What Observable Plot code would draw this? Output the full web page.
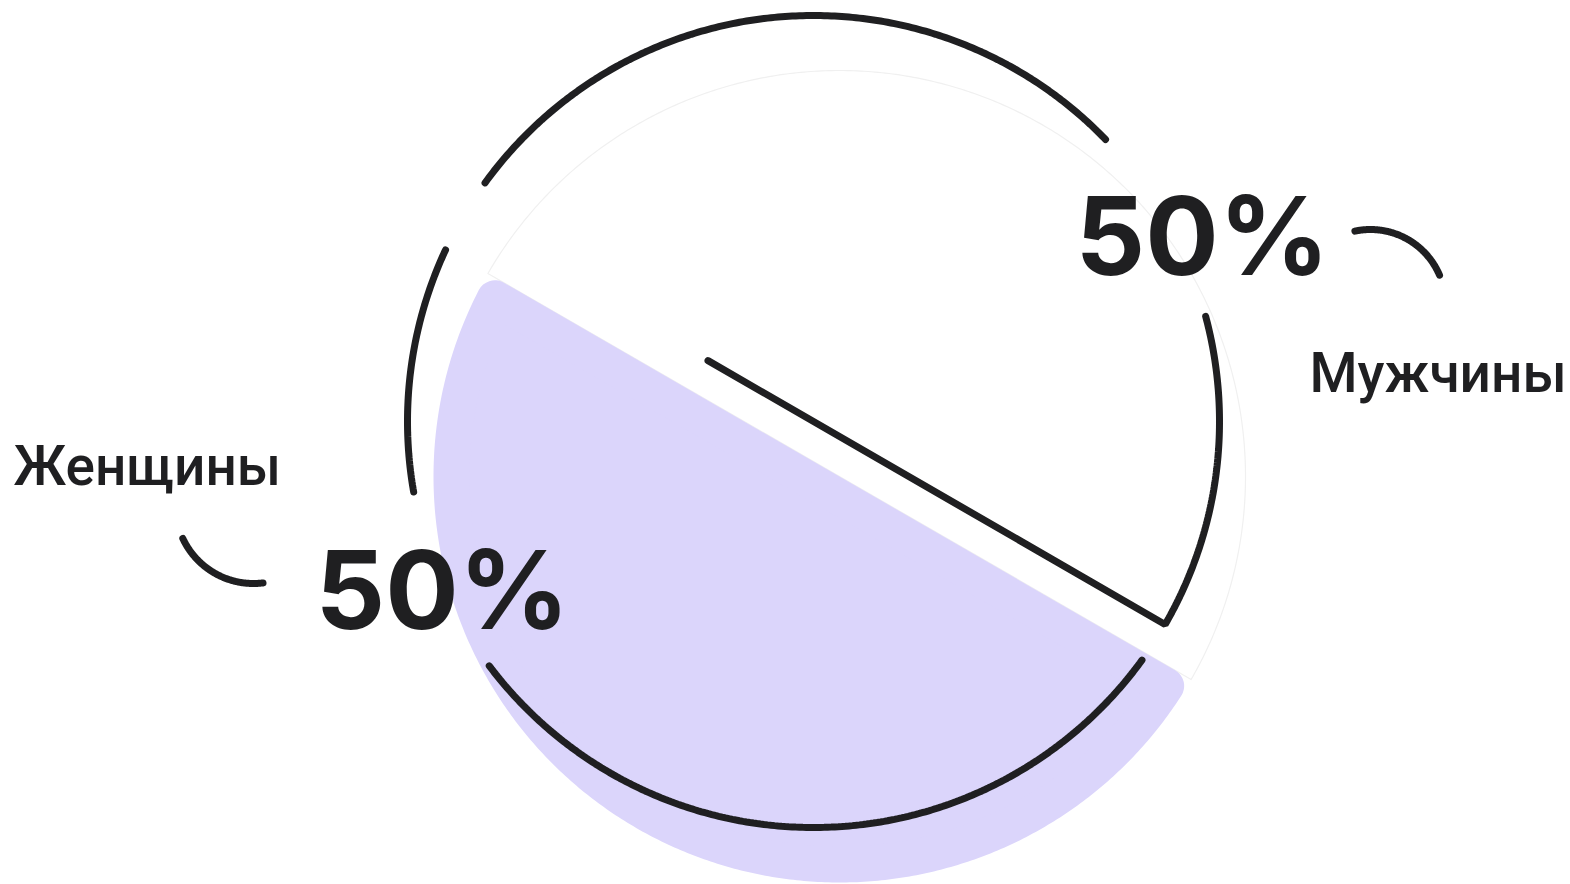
<!DOCTYPE html>
<html><head><meta charset="utf-8">
<script src="https://cdn.jsdelivr.net/npm/d3@7"></script>
<script src="https://cdn.jsdelivr.net/npm/@observablehq/plot@0.6"></script>
<style>html,body{margin:0;padding:0;background:#fff;overflow:hidden}#chart svg{display:block}</style>
</head><body><div id="chart"></div>
<script>
// ---- data ----
const categories = ["Мужчины", "Женщины"];
const values = [50, 50];
const valueLabels = values.map(v => `${v}%`);

// ---- layout / style ----
const W = 1570, H = 884;
const INK = "#1f1f21", LAVENDER = "#dbd5fb";
const deg = Math.PI / 180;
const FILL = {cx: 839, cy: 476, r: 406};
const RING = {cx: 813, cy: 421, r: 406};
const CORNER = 18;

const pie = d3.pie().sort(null).startAngle(-60 * deg).endAngle(300 * deg)(values);
const [men, women] = pie;

const pt = (c, r, a) => ({x: c.cx + r * Math.sin(a), y: c.cy - r * Math.cos(a)});
function arcPoints(c, r, a0, a1, seg) {
  const n = Math.max(2, Math.ceil(Math.abs(a1 - a0) / (0.5 * deg)));
  return d3.range(n + 1).map(i => ({...pt(c, r, a0 + (a1 - a0) * i / n), seg}));
}

// white slice (men)
const menPoly = [{x: FILL.cx, y: FILL.cy}, ...arcPoints(FILL, FILL.r, men.startAngle, men.endAngle), {x: FILL.cx, y: FILL.cy}];
// lavender slice (women) with rounded corners: inset polygon + round-joined stroke
const rIn = FILL.r - CORNER;
const dl = Math.asin(CORNER / rIn);
const womenArc = arcPoints(FILL, rIn, women.startAngle + dl, women.endAngle - dl);
const womenPoly = [...womenArc, womenArc[0]];

// black outline of the ring
const spoke = [pt(RING, -0.3 * RING.r, men.endAngle), pt(RING, RING.r, men.endAngle)].map(d => ({...d, seg: "b"}));
const ringSegs = [
  ...arcPoints(RING, RING.r, men.startAngle + 6 * deg, 46 * deg, "a"),
  ...spoke, ...arcPoints(RING, RING.r, men.endAngle, 75 * deg, "b").slice(1),
  ...arcPoints(RING, RING.r, women.startAngle + 6 * deg, 233 * deg, "c"),
  ...arcPoints(RING, RING.r, 260 * deg, women.endAngle - 5 * deg, "d")
];
// decorative label swooshes
const swoosh = [
  ...arcPoints({cx: 1370, cy: 304}, 75, -12 * deg, 67 * deg, "m"),
  ...arcPoints({cx: 253, cy: 505}, 78, 173 * deg, 245 * deg, "w")
];

const pctText = [
  {text: valueLabels[0], x: 1075, y: 274},
  {text: valueLabels[1], x: 315, y: 628}
];
const nameText = [
  {text: categories[0], x: 1309, y: 391},
  {text: categories[1], x: 13, y: 484}
];

const chart = Plot.plot({
  width: W, height: H, margin: 0,
  x: {domain: [0, W], range: [0, W], axis: null},
  y: {domain: [0, H], range: [0, H], axis: null},
  style: {background: "white", fontFamily: "Inter, Roboto, sans-serif", overflow: "visible", color: INK},
  marks: [
    Plot.line(menPoly, {x: "x", y: "y", fill: "white", stroke: "#f0f0f0", strokeWidth: 1.2}),
    Plot.line(womenPoly, {x: "x", y: "y", fill: LAVENDER, stroke: LAVENDER, strokeWidth: 2 * CORNER, strokeLinejoin: "round", strokeLinecap: "round"}),
    Plot.line(ringSegs, {x: "x", y: "y", z: "seg", stroke: INK, strokeWidth: 7, strokeLinecap: "round", strokeLinejoin: "miter"}),
    Plot.line(swoosh, {x: "x", y: "y", z: "seg", stroke: INK, strokeWidth: 7, strokeLinecap: "round"}),
    Plot.text(pctText, {x: "x", y: "y", text: "text", textAnchor: "start", lineAnchor: "bottom", fontSize: 109, fontWeight: 700, fontFamily: "Inter, Roboto, sans-serif", fill: INK}),
    Plot.text(nameText, {x: "x", y: "y", text: "text", textAnchor: "start", lineAnchor: "bottom", fontSize: 55, fontWeight: 500, fontFamily: "Roboto", fill: INK})
  ]
});
document.getElementById("chart").append(chart);
</script>
</body></html>
